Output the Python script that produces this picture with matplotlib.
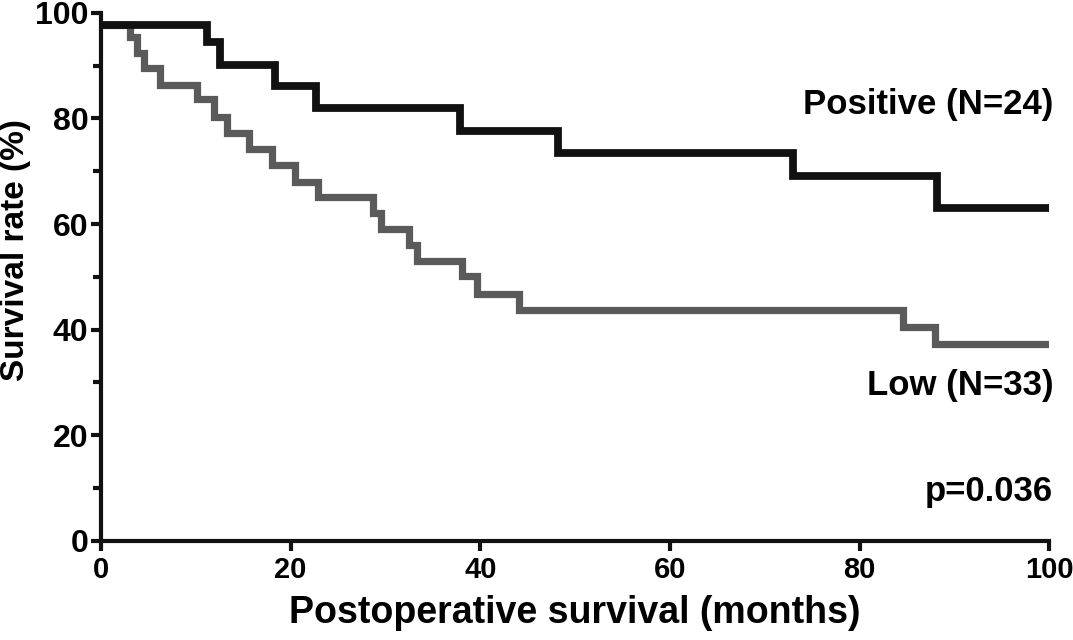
import matplotlib.pyplot as plt

plt.rcParams['font.family'] = ['Liberation Sans', 'DejaVu Sans']
plt.rcParams['font.weight'] = 'bold'

# Kaplan-Meier curves (months, survival %)
pos_times = [0, 11.2, 12.6, 18.4, 22.7, 37.9, 48.2, 73.0, 88.1, 100]
pos_surv = [97.7, 94.4, 90.2, 86.1, 81.9, 77.7, 73.5, 69.0, 63.1, 63.1]

low_times = [0, 3.1, 3.8, 4.5, 6.2, 10.1, 11.9, 13.3, 15.6, 18.0, 20.5, 22.9,
             28.7, 29.5, 32.5, 33.3, 38.1, 39.7, 44.1, 84.6, 87.9, 100]
low_surv = [97.7, 95.5, 92.4, 89.5, 86.4, 83.7, 80.2, 77.2, 74.2, 71.1, 68.0,
            65.1, 62.1, 59.0, 56.1, 52.9, 50.1, 46.7, 43.8, 40.4, 37.3, 37.3]

fig = plt.figure(figsize=(10.73, 6.40), dpi=100)
ax = fig.add_axes([0.094, 0.155, 0.884, 0.825])

ax.step(low_times, low_surv, where='post', color='#5a5a5a', lw=5.2,
        solid_joinstyle='miter', solid_capstyle='butt')
ax.step(pos_times, pos_surv, where='post', color='#111111', lw=5.6,
        solid_joinstyle='miter', solid_capstyle='butt')

ax.set_xlim(0, 100)
ax.set_ylim(0, 100)
ax.set_xticks([0, 20, 40, 60, 80, 100])
ax.set_yticks([0, 20, 40, 60, 80, 100])
ax.set_yticks([10, 30, 50, 70, 90], minor=True)
for s in ['top', 'right']:
    ax.spines[s].set_visible(False)
for s in ['left', 'bottom']:
    ax.spines[s].set_linewidth(3.0)
    ax.spines[s].set_color('#111111')
ax.tick_params(which='major', length=7, width=3, pad=2, color='#111111')
ax.tick_params(axis='y', which='major', labelsize=23)
ax.tick_params(axis='x', which='major', labelsize=21, pad=4)
ax.tick_params(which='minor', length=6, width=3, color='#111111')

ax.set_xlabel('Postoperative survival (months)', fontsize=27, fontweight='bold', labelpad=8)
ax.set_ylabel('Survival rate (%)', fontsize=24, fontweight='bold')
ax.yaxis.set_label_coords(-0.074, 0.55)

ax.text(100.4, 82.6, 'Positive (N=24)', ha='right', va='center', fontsize=25, fontweight='bold')
ax.text(100.4, 29.5, 'Low (N=33)', ha='right', va='center', fontsize=25, fontweight='bold')
ax.text(100.4, 9.3, 'p=0.036', ha='right', va='center', fontsize=25, fontweight='bold')

fig.savefig('out.png', dpi=100)
